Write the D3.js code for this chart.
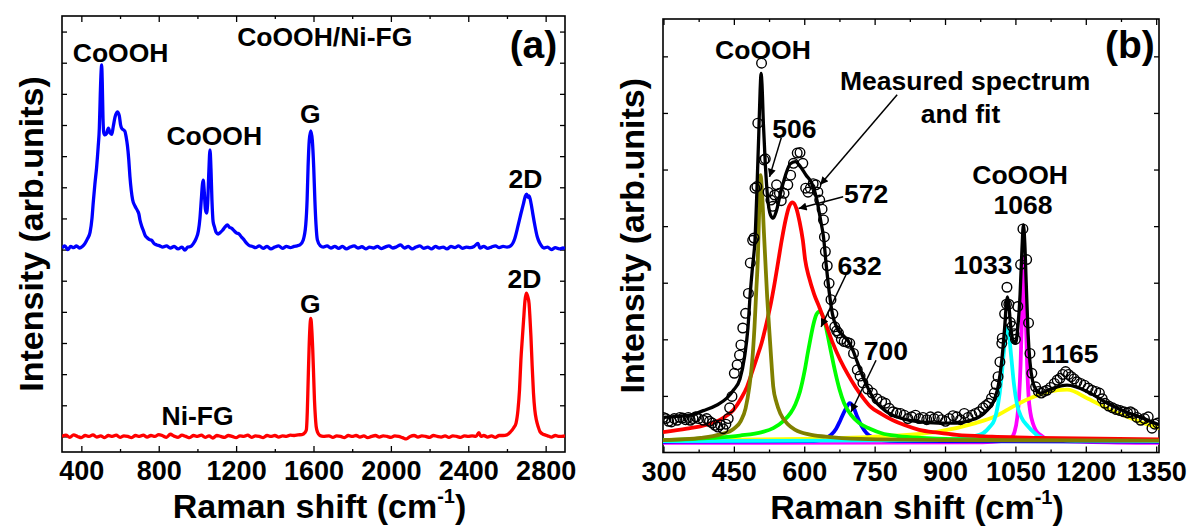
<!DOCTYPE html>
<html>
<head>
<meta charset="utf-8">
<script src="https://cdn.jsdelivr.net/npm/d3@7"></script>
<style>
  body { margin: 0; background: #fff; }
  text { font-family: "Liberation Sans", Arial, sans-serif; font-weight: bold; fill: #000; }
</style>
</head>
<body>
<svg id="chart" width="1189" height="528"></svg>
<script>
// ---------- panel (a): Raman spectra, [shift, intensity] ----------
const coOOHNiFG = [
  [300,6.05],[315,6.12],[330,6.0],[345,6.1],[360,6.06],[375,6.12],[390,6.05],[405,6.1],[419,6.2],[432,6.35],
  [445,6.55],[455,7.0],[462,7.55],[470,8.1],[479,8.65],[487,9.3],[493,9.9],[498,11.0],[502,11.7],[505,11.93],
  [508,11.4],[512,10.2],[516,9.75],[522,9.68],[530,9.72],[540,9.9],[548,9.75],[557,9.7],[565,9.95],[574,10.25],
  [586,10.42],[596,10.3],[603,10.0],[608,9.9],[616,9.85],[625,9.8],[632,9.6],[638,9.35],[645,8.9],[651,8.35],
  [658,7.9],[665,7.6],[677,7.4],[690,7.25],[697,7.15],[703,6.95],[712,6.75],[720,6.62],[730,6.45],[740,6.38],
  [752,6.32],[763,6.3],[775,6.2],[790,6.15],[805,6.12],[820,6.08],[840,6.12],[860,6.05],[880,6.1],[900,6.02],
  [920,6.08],[935,5.98],[950,6.08],[965,6.1],[980,6.2],[993,6.35],[1005,6.6],[1013,7.0],[1020,7.6],[1026,8.1],
  [1030,8.23],[1035,7.9],[1041,7.3],[1047,7.17],[1053,7.5],[1059,8.5],[1065,9.2],[1070,8.6],[1075,7.6],[1081,6.9],
  [1088,6.73],[1097,6.55],[1107,6.5],[1118,6.55],[1130,6.62],[1142,6.72],[1155,6.79],[1165,6.72],[1178,6.68],[1190,6.6],
  [1203,6.53],[1215,6.5],[1228,6.4],[1241,6.31],[1255,6.2],[1270,6.12],[1285,6.1],[1300,6.06],[1320,6.12],[1340,6.04],
  [1360,6.1],[1380,6.02],[1400,6.08],[1420,6.12],[1440,6.04],[1460,6.1],[1480,6.06],[1500,6.1],[1515,6.12],[1530,6.15],
  [1547,6.31],[1560,6.8],[1567,7.6],[1572,8.66],[1578,9.5],[1586,9.81],[1594,9.5],[1601,8.66],[1607,7.6],[1613,6.8],
  [1620,6.31],[1635,6.12],[1650,6.08],[1670,6.12],[1690,6.05],[1710,6.1],[1730,6.04],[1750,6.1],[1770,6.02],[1790,6.08],
  [1810,6.12],[1830,6.05],[1850,6.09],[1870,6.02],[1890,6.08],[1910,6.05],[1930,6.1],[1950,6.03],[1970,6.08],[1990,6.12],
  [2010,6.05],[2030,6.09],[2050,6.15],[2070,6.05],[2090,6.1],[2110,6.02],[2130,6.08],[2150,6.12],[2170,6.04],[2190,6.08],
  [2210,6.02],[2230,6.1],[2250,6.05],[2270,6.08],[2290,6.02],[2310,6.1],[2330,6.06],[2350,6.12],[2370,6.04],[2390,6.08],
  [2410,6.06],[2430,6.1],[2450,6.2],[2460,6.05],[2480,6.1],[2500,6.04],[2520,6.08],[2540,6.12],[2560,6.06],[2580,6.1],
  [2600,6.08],[2619,6.12],[2640,6.35],[2657,6.76],[2672,7.15],[2686,7.49],[2695,7.72],[2702,7.78],[2708,7.68],[2714,7.72],
  [2720,7.62],[2727,7.4],[2733,7.17],[2745,6.75],[2755,6.45],[2762,6.31],[2775,6.15],[2791,6.05],[2810,6.08],[2830,6.0],
  [2850,6.06],[2870,6.02],[2890,6.05],[2900,6.03]
];
const niFG = [
  [300,0.0],[320,0.04],[340,-0.03],[360,0.05],[380,0.0],[400,-0.04],[420,0.03],[440,0.0],[460,0.05],[480,-0.02],
  [500,0.02],[520,-0.04],[540,0.03],[560,0.0],[580,0.04],[600,-0.03],[620,0.02],[640,0.0],[660,-0.04],[680,0.03],
  [700,0.0],[720,0.04],[740,-0.02],[760,0.03],[780,0.0],[800,0.06],[820,0.02],[840,-0.03],[860,0.07],[880,0.01],
  [900,-0.03],[920,0.04],[940,0.0],[960,-0.04],[980,0.03],[1000,0.0],[1020,0.04],[1040,-0.03],[1060,0.02],[1080,-0.05],
  [1100,0.03],[1120,0.0],[1140,-0.03],[1160,0.03],[1180,0.0],[1200,-0.04],[1220,0.02],[1240,0.0],[1260,0.04],[1280,-0.03],
  [1300,0.02],[1320,0.0],[1340,-0.04],[1360,0.03],[1380,0.0],[1400,0.03],[1420,-0.02],[1440,0.02],[1460,0.0],[1480,0.04],
  [1500,0.03],[1520,0.05],[1540,0.06],[1555,0.12],[1563,0.21],[1568,0.8],[1572,1.7],[1577,2.8],[1581,3.45],[1586,3.79],
  [1591,3.45],[1596,2.8],[1601,1.9],[1605,1.17],[1610,0.6],[1614,0.31],[1622,0.12],[1633,0.03],[1650,0.0],[1680,0.02],
  [1700,-0.03],[1720,0.02],[1740,0.0],[1760,-0.04],[1780,0.03],[1800,0.0],[1820,0.03],[1840,-0.02],[1860,0.02],[1880,-0.04],
  [1900,0.0],[1920,0.03],[1940,-0.02],[1960,0.02],[1980,0.0],[2000,-0.03],[2020,0.02],[2040,0.0],[2060,-0.04],[2080,-0.08],
  [2100,0.0],[2120,0.03],[2140,-0.02],[2160,0.02],[2180,0.0],[2200,-0.03],[2220,0.03],[2240,0.0],[2260,-0.02],[2280,0.02],
  [2300,-0.03],[2320,0.02],[2340,0.0],[2360,-0.03],[2380,0.02],[2400,0.0],[2420,0.02],[2440,0.0],[2455,0.12],[2465,0.0],
  [2480,0.03],[2500,-0.02],[2520,0.02],[2540,-0.03],[2560,0.03],[2580,0.03],[2600,0.05],[2619,0.15],[2635,0.28],[2647,0.43],
  [2657,0.85],[2665,1.5],[2672,2.45],[2680,3.2],[2686,3.74],[2693,4.35],[2700,4.6],[2707,4.5],[2714,4.28],[2719,3.8],
  [2724,3.2],[2730,2.3],[2737,1.4],[2744,0.85],[2752,0.53],[2762,0.3],[2771,0.15],[2790,0.06],[2810,0.02],[2830,-0.02],
  [2850,0.03],[2870,0.0],[2900,0.02]
];

// ---------- panel (b): measured points, fit and fitted peaks ----------
const measured = [
  [300,0.62],[305,0.6],[311,0.55],[317,0.54],[323,0.6],[329,0.57],[335,0.62],[341,0.61],[347,0.58],[353,0.62],
  [357,0.57],[363,0.6],[369,0.63],[375,0.6],[385,0.57],[392,0.6],[398,0.55],[404,0.52],[410,0.48],[416,0.45],
  [421,0.49],[427,0.42],[433,0.5],[438,0.6],[441,0.79],[446,0.99],[451,1.40],[457,1.55],[462,1.72],[465,1.90],
  [469,2.20],[475,2.46],[481,2.81],[485,3.35],[490,3.75],[493,3.79],[495,4.67],[499,4.7],[501,5.82],[509,6.88],
  [514,5.17],[517,5.19],[523,4.6],[529,4.46],[533,4.35],[537,4.55],[541,4.73],[547,4.58],[551,4.45],[557,4.58],
  [565,4.73],[571,4.9],[577,5.11],[585,5.29],[591,5.3],[597,5.11],[603,4.67],[608,4.6],[613,4.67],[619,4.75],
  [625,4.73],[629,4.6],[633,4.46],[638,4.3],[641,4.11],[643,3.81],[645,3.55],[649,3.3],[653,2.99],[657,2.7],
  [661,2.45],[665,2.22],[669,2.15],[673,2.11],[679,2.0],[685,1.96],[691,1.95],[697,1.93],[705,1.75],[713,1.46],
  [719,1.35],[725,1.23],[735,1.12],[745,1.05],[755,0.95],[765,0.9],[773,0.87],[781,0.78],[789,0.72],[797,0.7],
  [805,0.69],[813,0.66],[821,0.6],[829,0.63],[837,0.66],[845,0.6],[853,0.62],[861,0.58],[869,0.63],[877,0.6],
  [885,0.63],[893,0.58],[901,0.55],[909,0.6],[917,0.65],[925,0.63],[933,0.58],[941,0.69],[949,0.62],[957,0.66],
  [965,0.69],[973,0.72],[981,0.79],[987,0.83],[993,0.87],[999,0.96],[1005,1.05],[1009,1.2],[1013,1.34],[1017,1.6],
  [1021,1.93],[1022,2.02],[1027,2.45],[1031,2.62],[1032,2.92],[1036,2.62],[1039,2.3],[1043,2.23],[1047,2.1],[1050,2.0],
  [1055,2.58],[1061,3.32],[1066,3.95],[1074,3.41],[1078,2.29],[1081,1.75],[1085,1.40],[1093,1.16],[1099,1.08],[1105,1.05],
  [1111,1.08],[1117,1.10],[1125,1.15],[1133,1.22],[1139,1.28],[1145,1.31],[1151,1.38],[1157,1.43],[1163,1.38],[1169,1.34],
  [1175,1.3],[1181,1.25],[1189,1.22],[1197,1.19],[1205,1.14],[1213,1.10],[1221,1.08],[1229,1.05],[1235,0.95],[1241,0.87],
  [1249,0.82],[1257,0.79],[1265,0.76],[1273,0.74],[1281,0.72],[1289,0.7],[1295,0.72],[1301,0.69],[1309,0.62],[1317,0.57],
  [1325,0.6],[1333,0.63],[1341,0.43],[1347,0.5],[1353,0.52]
];
const fitSum = [
  [300,0.62],[330,0.64],[357,0.66],[385,0.74],[414,0.84],[435,0.96],[449,1.10],[463,1.3],[473,1.7],[480,2.2],
  [485,2.82],[490,3.3],[495,3.75],[499,4.6],[503,5.6],[506,6.4],[508,6.70],[510,6.5],[513,5.8],[517,5.1],
  [522,4.5],[528,4.2],[534,4.14],[540,4.25],[550,4.6],[560,4.9],[570,5.1],[581,5.14],[592,5.05],[604,4.9],
  [616,4.76],[626,4.5],[635,4.1],[641,3.81],[647,3.3],[653,2.85],[660,2.45],[670,2.2],[685,2.05],[695,1.95],
  [703,1.82],[713,1.6],[725,1.34],[737,1.12],[749,0.93],[765,0.79],[781,0.69],[810,0.6],[845,0.54],[885,0.52],
  [925,0.52],[950,0.56],[973,0.63],[990,0.75],[1005,0.93],[1014,1.2],[1021,1.63],[1027,2.2],[1031,2.65],[1033,2.75],
  [1036,2.6],[1041,2.15],[1046,1.95],[1050,1.93],[1055,2.2],[1060,2.8],[1064,3.6],[1067,4.02],[1070,3.7],[1073,3.0],
  [1077,2.1],[1081,1.6],[1087,1.25],[1095,1.1],[1103,1.05],[1125,1.12],[1160,1.19],[1205,1.07],[1246,0.87],[1285,0.72],
  [1317,0.62],[1356,0.49]
];
const peak506 = [
  [299,0.22],[380,0.26],[421,0.32],[450,0.42],[465,0.56],[475,0.78],[483,1.16],[489,1.6],[494,2.22],[498,2.9],
  [501,3.4],[504,4.3],[507,4.9],[510,4.6],[514,3.9],[517,3.4],[521,2.75],[525,2.22],[530,1.6],[534,1.16],
  [541,0.88],[549,0.69],[565,0.5],[581,0.40],[610,0.32],[645,0.28],[720,0.24],[900,0.22],[1356,0.21]
];
const peak572 = [
  [299,0.36],[350,0.42],[392,0.49],[425,0.6],[449,0.75],[465,0.95],[478,1.16],[490,1.45],[500,1.7],[509,1.93],
  [520,2.3],[529,2.64],[537,3.0],[545,3.40],[552,3.75],[560,4.1],[568,4.35],[575,4.42],[583,4.32],[590,4.08],
  [597,3.75],[602,3.4],[610,3.1],[621,2.8],[633,2.55],[645,2.29],[660,1.95],[677,1.63],[693,1.38],[709,1.16],
  [725,0.97],[741,0.81],[765,0.68],[789,0.57],[815,0.48],[845,0.40],[885,0.35],[925,0.31],[1000,0.28],[1100,0.26],
  [1356,0.23]
];
const peak632 = [
  [299,0.22],[405,0.26],[463,0.3],[510,0.36],[534,0.43],[556,0.56],[571,0.7],[581,0.85],[591,1.08],[601,1.45],
  [608,1.78],[613,2.0],[620,2.28],[626,2.44],[632,2.49],[638,2.44],[644,2.3],[649,2.11],[657,1.78],[665,1.46],
  [675,1.12],[685,0.87],[700,0.66],[717,0.52],[740,0.42],[765,0.34],[800,0.29],[850,0.26],[1000,0.23],[1356,0.22]
];
const peak700 = [
  [299,0.19],[620,0.2],[645,0.25],[657,0.31],[668,0.42],[677,0.57],[687,0.75],[697,0.87],[705,0.8],[713,0.63],
  [722,0.47],[733,0.34],[748,0.26],[765,0.22],[800,0.2],[1356,0.19]
];
const peak1033 = [
  [299,0.2],[900,0.22],[950,0.27],[981,0.34],[995,0.45],[1005,0.57],[1013,0.85],[1020,1.3],[1025,1.75],[1029,2.1],
  [1032,2.2],[1036,2.1],[1041,1.7],[1047,1.2],[1053,0.87],[1063,0.62],[1077,0.46],[1090,0.35],[1101,0.28],[1130,0.23],
  [1200,0.21],[1356,0.2]
];
const peak1068 = [
  [299,0.17],[980,0.18],[1020,0.2],[1040,0.25],[1048,0.36],[1054,0.62],[1058,1.0],[1061,1.55],[1064,2.4],[1066,3.1],
  [1068,3.45],[1070,3.1],[1072,2.4],[1075,1.55],[1078,1.0],[1082,0.7],[1088,0.5],[1093,0.4],[1105,0.3],[1125,0.22],
  [1200,0.19],[1356,0.17]
];
const peak1165 = [
  [299,0.22],[600,0.24],[750,0.28],[885,0.37],[965,0.52],[1005,0.63],[1045,0.81],[1085,0.97],[1120,1.07],
  [1160,1.11],[1205,0.95],[1246,0.78],[1285,0.64],[1317,0.54],[1356,0.43]
];

// ticks
const ticksA = [400, 800, 1200, 1600, 2000, 2400, 2800];
const minorA = [600, 1000, 1400, 1800, 2200, 2600];
const ticksB = [300, 450, 600, 750, 900, 1050, 1200, 1350];
const minorB = [375, 525, 675, 825, 975, 1125, 1275];
const yTicksA = [0, 1, 2, 3, 4, 5, 6, 7, 8, 9, 10, 11, 12, 13];
const yTicksB = [1, 2, 3, 4, 5, 6, 7];

// labels: [text, x, y] in data units (text baseline)
const labelsA = [
  ["CoOOH/Ni-FG", 1658, 12.54], ["CoOOH", 603, 12.03], ["CoOOH", 1087, 9.36],
  ["G", 1583, 10.07], ["2D", 2695, 7.98], ["G", 1583, 3.96], ["2D", 2691, 4.77], ["Ni-FG", 1001, 0.37]
];
const labelsB = [
  ["CoOOH", 512, 6.96], ["Measured spectrum", 943, 6.4], ["and fit", 933, 5.82],
  ["506", 579, 5.55], ["572", 732, 4.41], ["632", 718, 3.14], ["700", 774, 1.63],
  ["CoOOH", 1060, 4.75], ["1068", 1066, 4.22], ["1033", 981, 3.15], ["1165", 1166, 1.58]
];
// arrows: [x1, y1, x2, y2] in data units
const arrowsB = [
  [551, 5.56, 526, 4.87], [683, 4.52, 588, 4.31], [798, 6.32, 634, 4.73],
  [689, 3.14, 636, 2.22], [753, 1.63, 700, 0.72]
];

const svg = d3.select("#chart");

svg.append("defs").append("marker")
  .attr("id", "head")
  .attr("viewBox", "0 0 10 10")
  .attr("refX", 10).attr("refY", 5)
  .attr("markerUnits", "userSpaceOnUse")
  .attr("markerWidth", 9).attr("markerHeight", 8)
  .attr("orient", "auto")
  .append("path").attr("d", "M0,0L10,5L0,10z").attr("fill", "#000");

function frame(id, box, x, y, major, minor, yTicks) {
  const g = svg.append("g");
  g.append("clipPath").attr("id", id)
    .append("rect").attr("x", box.l).attr("y", box.t)
    .attr("width", box.r - box.l).attr("height", box.b - box.t);

  const bottom = g.append("g").attr("transform", `translate(0,${box.b})`)
    .call(d3.axisBottom(x).tickValues(major).tickSize(-6).tickPadding(9).tickFormat(d3.format("d")));
  bottom.selectAll("text").attr("font-size", "27px").attr("font-family", null);
  g.append("g").attr("transform", `translate(0,${box.b})`)
    .call(d3.axisBottom(x).tickValues(minor).tickSize(-3).tickFormat(""));
  g.append("g").attr("transform", `translate(0,${box.t})`)
    .call(d3.axisTop(x).tickValues(major).tickSize(-6).tickFormat(""));
  g.append("g").attr("transform", `translate(0,${box.t})`)
    .call(d3.axisTop(x).tickValues(minor).tickSize(-3).tickFormat(""));
  g.append("g").attr("transform", `translate(${box.l},0)`)
    .call(d3.axisLeft(y).tickValues(yTicks).tickSize(-5).tickFormat(""));
  g.append("g").attr("transform", `translate(${box.r},0)`)
    .call(d3.axisRight(y).tickValues(yTicks).tickSize(-5).tickFormat(""));
  g.selectAll(".domain").remove();
  g.selectAll(".tick line").attr("stroke", "#000").attr("stroke-width", 1.3);

  g.append("rect").attr("x", box.l).attr("y", box.t)
    .attr("width", box.r - box.l).attr("height", box.b - box.t)
    .attr("fill", "none").attr("stroke", "#000").attr("stroke-width", 1.6);

  const cx = (box.l + box.r) / 2;
  const title = g.append("text").attr("x", cx + 6).attr("y", box.b + 66)
    .attr("text-anchor", "middle").attr("font-size", "34px");
  title.append("tspan").text("Raman shift (cm");
  title.append("tspan").text("-1").attr("font-size", "20px").attr("dy", -15);
  title.append("tspan").text(")").attr("dy", 15);

  g.append("text")
    .attr("transform", `translate(${box.l - 19},${(box.t + box.b) / 2}) rotate(-90)`)
    .attr("text-anchor", "middle").attr("font-size", "34px")
    .text("Intensity (arb.units)");
  return g;
}

function addLabels(g, list, x, y, size) {
  g.selectAll(null).data(list).join("text")
    .attr("x", d => x(d[1])).attr("y", d => y(d[2]))
    .attr("text-anchor", "middle").attr("font-size", size)
    .text(d => d[0]);
}

// ---------- panel (a) ----------
const boxA = { l: 62, r: 565, t: 16, b: 452 };
const xA = d3.scaleLinear().domain([300, 2900]).range([boxA.l, boxA.r]);
const yA = d3.scaleLinear().domain([-0.5, 13.5]).range([boxA.b, boxA.t]);
const gA = frame("clipA", boxA, xA, yA, ticksA, minorA, yTicksA);
const lineA = d3.line().x(d => xA(d[0])).y(d => yA(d[1])).curve(d3.curveMonotoneX);

const curvesA = gA.append("g").attr("clip-path", "url(#clipA)");
curvesA.append("path").datum(niFG).attr("d", lineA)
  .attr("fill", "none").attr("stroke", "#ff0000").attr("stroke-width", 3.3).attr("stroke-linejoin", "round");
curvesA.append("path").datum(coOOHNiFG).attr("d", lineA)
  .attr("fill", "none").attr("stroke", "#0000ff").attr("stroke-width", 3.3).attr("stroke-linejoin", "round");

addLabels(gA, labelsA, xA, yA, "26.5px");
gA.append("text").attr("x", xA(2737)).attr("y", yA(12.15))
  .attr("text-anchor", "middle").attr("font-size", "39px").text("(a)");

// ---------- panel (b) ----------
const boxB = { l: 663, r: 1159, t: 19, b: 452.5 };
const xB = d3.scaleLinear().domain([299, 1356]).range([boxB.l, boxB.r]);
const yB = d3.scaleLinear().domain([0, 7.66]).range([boxB.b, boxB.t]);
const gB = frame("clipB", boxB, xB, yB, ticksB, minorB, yTicksB);
const lineB = d3.line().x(d => xB(d[0])).y(d => yB(d[1])).curve(d3.curveMonotoneX);

const curvesB = gB.append("g").attr("clip-path", "url(#clipB)");
const peaks = [
  [peak1068, "#ff00ff"], [peak700, "#0000ff"], [peak1165, "#ffff00"], [peak1033, "#00ffff"],
  [peak632, "#00ff00"], [peak572, "#ff0000"], [peak506, "#808000"]
];
peaks.forEach(([data, color]) => {
  curvesB.append("path").datum(data).attr("d", lineB)
    .attr("fill", "none").attr("stroke", color).attr("stroke-width", 3.8).attr("stroke-linejoin", "round");
});
curvesB.append("path").datum(fitSum).attr("d", lineB)
  .attr("fill", "none").attr("stroke", "#000").attr("stroke-width", 3.3).attr("stroke-linejoin", "round");
curvesB.selectAll("circle").data(measured).join("circle")
  .attr("cx", d => xB(d[0])).attr("cy", d => yB(d[1])).attr("r", 4.8)
  .attr("fill", "none").attr("stroke", "#000").attr("stroke-width", 1.4);

gB.selectAll("line.arrow").data(arrowsB).join("line").attr("class", "arrow")
  .attr("x1", d => xB(d[0])).attr("y1", d => yB(d[1]))
  .attr("x2", d => xB(d[2])).attr("y2", d => yB(d[3]))
  .attr("stroke", "#000").attr("stroke-width", 1.5).attr("marker-end", "url(#head)");

addLabels(gB, labelsB, xB, yB, "26.5px");
gB.append("text").attr("x", xB(1294)).attr("y", yB(6.97))
  .attr("text-anchor", "middle").attr("font-size", "39px").text("(b)");
</script>
</body>
</html>
